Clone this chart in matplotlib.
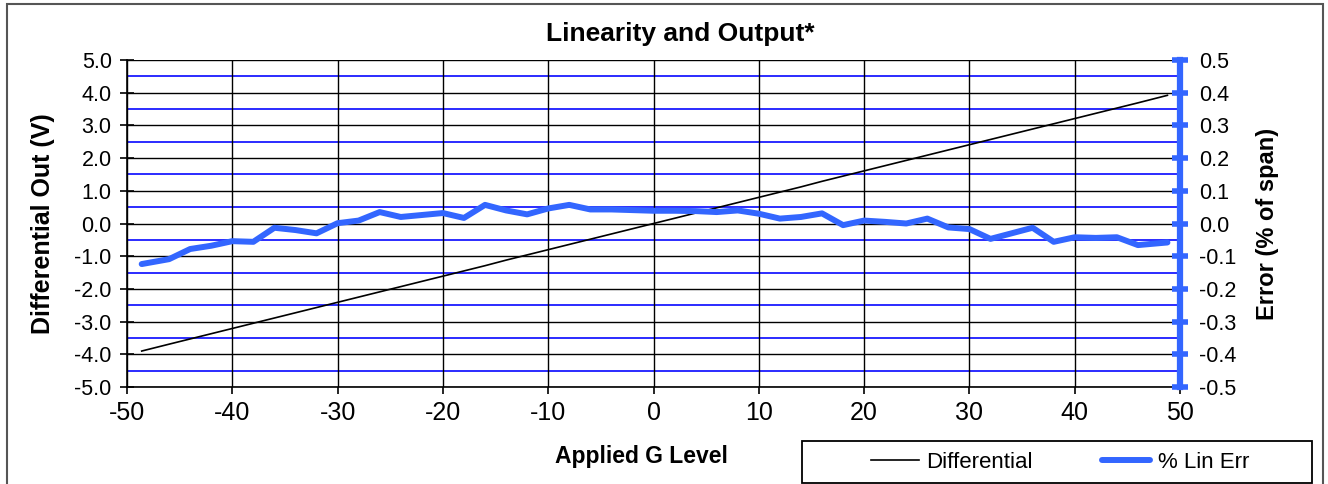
#!/usr/bin/env python3
# -*- coding: utf-8 -*-
"""
Linearity and output of an accelerometer: differential output and
linearity error versus applied G level.
"""

import matplotlib
matplotlib.use('Agg')
import matplotlib.pyplot as PyPlot
from matplotlib.patches import Rectangle

PyPlot.rcParams['font.family'] = ['Liberation Sans', 'DejaVu Sans']

# Applied G level (x values)
gLevel = [-48.6, -46, -44, -42, -40, -38, -36, -34, -32, -30, -28, -26,
          -24, -22, -20, -18, -16, -14, -12, -10, -8, -6, -4, -2, 0,
          2, 4, 6, 8, 10, 12, 14, 16, 18, 20, 22, 24, 26, 28, 30,
          32, 34, 36, 38, 40, 42, 44, 46, 48.8]

# Differential output (V)
differential = [-3.90, -3.69, -3.53, -3.37, -3.21, -3.05, -2.89, -2.73,
                -2.57, -2.41, -2.25, -2.09, -1.93, -1.77, -1.61, -1.45,
                -1.29, -1.12, -0.96, -0.80, -0.64, -0.48, -0.32, -0.16,
                0.00, 0.16, 0.32, 0.48, 0.64, 0.80, 0.96, 1.12, 1.29,
                1.45, 1.61, 1.77, 1.93, 2.09, 2.25, 2.41, 2.57, 2.73,
                2.89, 3.05, 3.21, 3.37, 3.53, 3.69, 3.92]

# Linearity error (% of span)
linErr = [-0.124, -0.109, -0.078, -0.068, -0.054, -0.056, -0.013, -0.020,
          -0.030, 0.001, 0.009, 0.035, 0.020, 0.026, 0.032, 0.017,
          0.057, 0.040, 0.028, 0.046, 0.057, 0.043, 0.043, 0.041, 0.039,
          0.039, 0.038, 0.035, 0.040, 0.030, 0.015, 0.020, 0.031, -0.005,
          0.009, 0.005, 0.000, 0.015, -0.012, -0.017, -0.047, -0.030,
          -0.013, -0.056, -0.042, -0.044, -0.042, -0.066, -0.058]

xTicks = [-50, -40, -30, -20, -10, 0, 10, 20, 30, 40, 50]
leftTicks = [-5, -4, -3, -2, -1, 0, 1, 2, 3, 4, 5]
rightTicks = [-0.5, -0.4, -0.3, -0.2, -0.1, 0.0, 0.1, 0.2, 0.3, 0.4, 0.5]
blueGrid = [-4.5, -3.5, -2.5, -1.5, -0.5, 0.5, 1.5, 2.5, 3.5, 4.5]

errBlue = '#3366ff'

figure = PyPlot.figure(figsize = (13.28, 4.84), dpi = 100)
axes = figure.add_axes([0.0956, 0.2004, 0.793, 0.6756])
axes2 = axes.twinx()

# Grid lines
for Y in blueGrid:
    axes.axhline(Y, color = '#1a1aff', linewidth = 1.3, zorder = 1)
for Y in leftTicks:
    axes.axhline(Y, color = 'black', linewidth = 1.0, zorder = 1)
for X in xTicks:
    axes.axvline(X, color = 'black', linewidth = 1.0, zorder = 1)

# Data series
lineDiff, = axes.plot(gLevel, differential, color = 'black',
                      linewidth = 1.2, zorder = 3, label = 'Differential')
lineErr, = axes2.plot(gLevel, linErr, color = errBlue, linewidth = 4.3,
                      solid_capstyle = 'round', solid_joinstyle = 'round',
                      zorder = 3, label = '% Lin Err')

# Left axis
axes.set_xlim(-50, 50)
axes.set_ylim(-5, 5)
axes.set_xticks(xTicks)
axes.set_xticklabels([str(X) for X in xTicks], fontsize = 18)
axes.set_yticks(leftTicks)
axes.set_yticklabels(['%.1f' % Y for Y in leftTicks], fontsize = 15.5)
axes.tick_params(axis = 'y', direction = 'inout', length = 10,
                 width = 1.2, pad = 6)
axes.tick_params(axis = 'x', direction = 'out', length = 5,
                 width = 1.2, pad = 5)
for side in ['top', 'right']:
    axes.spines[side].set_visible(False)
axes.spines['left'].set_linewidth(1.2)
axes.spines['bottom'].set_linewidth(1.2)

# Right axis
axes2.set_ylim(-0.5, 0.5)
axes2.set_yticks(rightTicks)
axes2.set_yticklabels(['%.1f' % Y for Y in rightTicks], fontsize = 15.5)
axes2.tick_params(axis = 'y', direction = 'inout', length = 11,
                  width = 4, color = errBlue, pad = 8)
for side in ['top', 'left', 'bottom']:
    axes2.spines[side].set_visible(False)
axes2.spines['right'].set_color(errBlue)
axes2.spines['right'].set_linewidth(4.5)

# Labels and title
axes.set_ylabel('Differential Out (V)', fontsize = 18, fontweight = 'bold',
                labelpad = 14)
axes2.set_ylabel('Error (% of span)', fontsize = 17, fontweight = 'bold',
                 labelpad = 14)
figure.text(0.483, 0.057, 'Applied G Level', fontsize = 16.5,
            fontweight = 'bold', ha = 'center', va = 'center')
figure.text(0.512, 0.93, 'Linearity and Output*', fontsize = 19,
            fontweight = 'bold', ha = 'center', va = 'center')

# Legend (frame drawn separately so the entries stay centred)
figure.patches.append(Rectangle((802 / 1328, 1 - 483 / 484),
                                510 / 1328, 42 / 484,
                                transform = figure.transFigure,
                                fill = False, edgecolor = 'black',
                                linewidth = 1.3))
legend = figure.legend(handles = [lineDiff, lineErr], ncol = 2,
                       loc = 'center',
                       bbox_to_anchor = (1060 / 1328, 1 - 462 / 484),
                       fontsize = 16, frameon = False,
                       handlelength = 2.16, handletextpad = 0.35,
                       columnspacing = 3.1)

# Outer border
figure.patches.append(Rectangle((0.005, -0.01), 0.991, 1.002,
                                transform = figure.transFigure,
                                fill = False, edgecolor = '#555555',
                                linewidth = 1.5))

figure.savefig('out.png', format = 'png', dpi = 100)
